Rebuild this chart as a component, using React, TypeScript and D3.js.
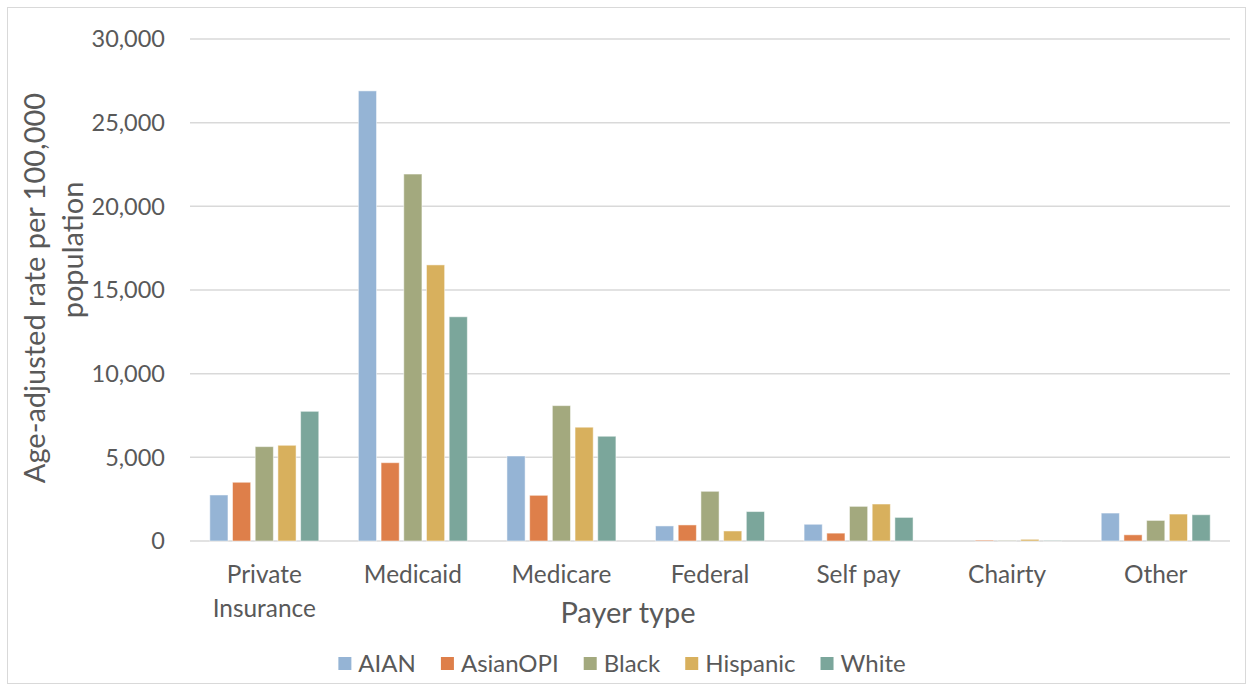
import React from "react";
import * as d3 from "d3";

const categories = [["Private", "Insurance"], ["Medicaid"], ["Medicare"], ["Federal"], ["Self pay"], ["Chairty"], ["Other"]];
const seriesNames = ["AIAN", "AsianOPI", "Black", "Hispanic", "White"];
const AIAN = [2750, 26900, 5080, 900, 1000, 0, 1670];
const AsianOPI = [3510, 4680, 2730, 960, 470, 50, 370];
const Black = [5640, 21930, 8090, 2970, 2070, 20, 1230];
const Hispanic = [5720, 16500, 6800, 600, 2210, 100, 1610];
const White = [7750, 13400, 6260, 1760, 1410, 20, 1570];
const yTicks = [0, 5000, 10000, 15000, 20000, 25000, 30000];
const colors = ["#95b4d5", "#de7f4a", "#a3a97e", "#d8b05d", "#7ba69b"];

const seriesValues = [AIAN, AsianOPI, Black, Hispanic, White];

export default function App() {
  const W = 1253, H = 690;
  const left = 190, right = 1230, top = 39, bottom = 541;
  const x0 = d3.scaleBand<number>().domain(d3.range(categories.length)).range([left, right]).paddingInner(0.236).paddingOuter(0.118);
  const x1 = d3.scaleBand<number>().domain(d3.range(seriesNames.length)).range([0, x0.bandwidth()]).paddingInner(0.2).paddingOuter(0.1);
  const y = d3.scaleLinear().domain([0, 30000]).range([bottom, top]);
  const fmt = d3.format(",");
  const font = "Lato, Carlito, 'Liberation Sans', sans-serif";
  const textColor = "#595959";

  // legend layout
  const legendFont = 24;
  const measure = (s: string) => {
    if (typeof document === "undefined") return s.length * 12;
    const c = document.createElement("canvas").getContext("2d");
    if (!c) return s.length * 12;
    c.font = `${legendFont}px Lato`;
    return c.measureText(s).width;
  };
  const sq = 13, gapSq = 7, gapItem = 25;
  const widths = seriesNames.map((s) => sq + gapSq + measure(s));
  const totalW = d3.sum(widths) + gapItem * (seriesNames.length - 1);
  let lx = 622 - totalW / 2;
  const legendItems = seriesNames.map((s, i) => {
    const item = { s, i, x: lx };
    lx += widths[i] + gapItem;
    return item;
  });

  return (
    <svg width={W} height={H} style={{ position: "absolute", left: 0, top: 0 }} fontFamily={font}>
      <rect x={0} y={0} width={W} height={H} fill="#fff" />
      <rect x={7.5} y={7.5} width={1238} height={676} fill="none" stroke="#d9d9d9" strokeWidth={1} />
      {yTicks.map((t) => (
        <g key={t}>
          <line x1={left} x2={right} y1={y(t)} y2={y(t)} stroke="#d9d9d9" strokeWidth={1.5} />
          <text x={165} y={y(t)} dy="0.35em" textAnchor="end" fontSize={23.5} fill={textColor}>{fmt(t)}</text>
        </g>
      ))}
      {categories.map((c, ci) => (
        <g key={ci} transform={`translate(${x0(ci)},0)`}>
          {seriesValues.map((vals, si) => (
            <rect key={si} x={x1(si)} y={y(vals[ci])} width={x1.bandwidth()} height={bottom - y(vals[ci])}
              fill={colors[si]} stroke="#ffffff" strokeOpacity={0.5} strokeWidth={1} />
          ))}
          {c.map((line, li) => (
            <text key={li} x={x0.bandwidth() / 2} y={583 + li * 34} textAnchor="middle" fontSize={24.4} fill={textColor}>{line}</text>
          ))}
        </g>
      ))}
      <text x={628} y={623} textAnchor="middle" fontSize={29} fill={textColor}>Payer type</text>
      <text transform={`translate(45,288) rotate(-90)`} textAnchor="middle" fontSize={29} fill={textColor}>Age-adjusted rate per 100,000</text>
      <text transform={`translate(83,250) rotate(-90)`} textAnchor="middle" fontSize={29} fill={textColor}>population</text>
      {legendItems.map(({ s, i, x }) => (
        <g key={s}>
          <rect x={x} y={657} width={sq} height={sq} fill={colors[i]} />
          <text x={x + sq + gapSq} y={672} fontSize={legendFont} fill={textColor}>{s}</text>
        </g>
      ))}
    </svg>
  );
}
